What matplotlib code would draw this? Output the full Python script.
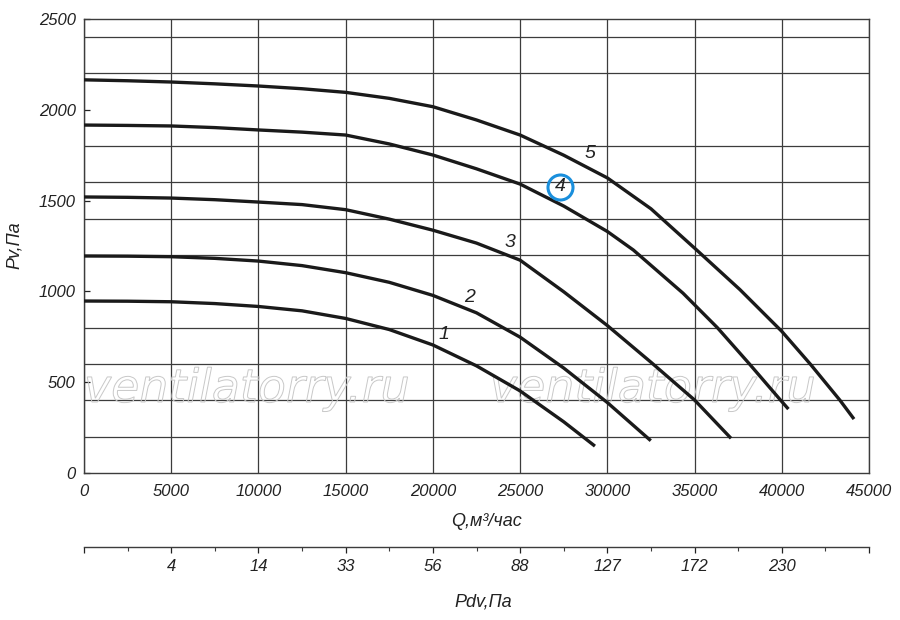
import numpy as np
import matplotlib
matplotlib.use('Agg')
import matplotlib.pyplot as plt
from matplotlib.ticker import FixedLocator, NullFormatter
from matplotlib.textpath import TextPath
from matplotlib.patches import PathPatch
from matplotlib.font_manager import FontProperties
from matplotlib.transforms import Affine2D

# curves: Q (m3/h) vs Pv (Pa)
q1 = [0, 2500, 5000, 7500, 10000, 12500, 15000, 17500, 20000, 22500, 25000, 27500, 29290]
p1 = [947, 946, 943, 933, 917, 893, 851, 790, 705, 590, 452, 282, 148]

q2 = [0, 2500, 5000, 7500, 10000, 12500, 15000, 17500, 20000, 22500, 25000, 27500, 30000, 32490]
p2 = [1195, 1194, 1191, 1182, 1167, 1142, 1103, 1050, 978, 882, 748, 578, 388, 178]

q3 = [0, 2500, 5000, 7500, 10000, 12500, 15000, 17500, 20000, 22500, 25000, 27500, 30000, 32500, 35000, 37090]
p3 = [1520, 1518, 1514, 1505, 1492, 1478, 1450, 1398, 1337, 1266, 1172, 998, 812, 610, 402, 191]

q4 = [0, 2500, 5000, 7500, 10000, 12500, 15000, 17500, 20000, 22500, 25000, 27500, 30000,
      31490, 34340, 36310, 38150, 39940, 40380]
p4 = [1916, 1914, 1911, 1902, 1889, 1877, 1861, 1812, 1751, 1675, 1591, 1470, 1330,
      1228, 990, 800, 600, 400, 352]

q5 = [0, 2500, 5000, 7500, 10000, 12500, 15000, 17500, 20000, 22500, 25000, 27500, 30000,
      32500, 35120, 37600, 40000, 41650, 43340, 44140]
p5 = [2165, 2160, 2153, 2143, 2131, 2116, 2096, 2063, 2017, 1944, 1861, 1750, 1625,
      1455, 1228, 1010, 780, 598, 400, 297]

curves = [(q1, p1), (q2, p2), (q3, p3), (q4, p4), (q5, p5)]

# curve number labels
lab_names = ['1', '2', '3', '4', '5']
lab_q = [20640, 22130, 24420, 27290, 29010]
lab_p = [760, 969, 1267, 1575, 1762]

q_ticks = list(range(0, 45001, 5000))
q_labels = [str(v) for v in q_ticks]
pv_ticks = list(range(0, 2501, 500))
pv_grid = list(range(0, 2501, 200))
pdv_labels = ['', '4', '14', '33', '56', '88', '127', '172', '230', '']
pdv_minor = list(range(2500, 45000, 5000))

plt.rcParams['font.family'] = ['Liberation Sans', 'DejaVu Sans']
plt.rcParams['font.style'] = 'italic'

fig = plt.figure(figsize=(9, 6.2), dpi=100)
ax = fig.add_axes([84/900, 1-473/620, 785/900, 454/620])
ax.set_xlim(0, 45000)
ax.set_ylim(0, 2500)

gridc = '#3c3c3c'
for s in ax.spines.values():
    s.set_color(gridc)
    s.set_linewidth(1.0)

ax.set_xticks(q_ticks)
ax.set_xticklabels(q_labels)
ax.set_yticks(pv_ticks)
ax.set_yticks(pv_grid, minor=True)
ax.xaxis.grid(True, which='major', color=gridc, lw=0.9)
ax.yaxis.grid(True, which='minor', color=gridc, lw=0.9)
ax.set_axisbelow(True)
ax.tick_params(axis='x', which='both', length=0, pad=8, labelsize=12, colors='#222222')
ax.tick_params(axis='y', which='major', direction='in', length=4, width=0.9, pad=6,
               labelsize=12, colors='#222222')
ax.tick_params(axis='y', which='minor', length=0)

for q, p in curves:
    ax.plot(q, p, color='#1a1a1a', lw=2.4, solid_capstyle='butt',
            solid_joinstyle='round', zorder=3)

for name, q, p in zip(lab_names, lab_q, lab_p):
    ax.text(q, p, name, fontsize=14, ha='center', va='center', color='#222222', zorder=4)
ax.plot([lab_q[3]], [lab_p[3]], marker='o', ms=18, mfc='none', mec='#1a8fdc', mew=2.2, zorder=4)

# watermark (outlined text)
fp = FontProperties(family='DejaVu Sans', style='oblique')
for x0 in [84, 490]:
    tp = TextPath((0, 0), 'ventilatorry.ru', size=33, prop=fp)
    tr = Affine2D().scale(1/72).translate(x0/100, (620-402)/100) + fig.dpi_scale_trans
    patch = PathPatch(tp, transform=tr, facecolor='none', edgecolor='#c8c8c8', lw=0.7,
                      zorder=2, clip_on=False)
    ax.add_patch(patch)

# second scale: dynamic pressure
sec = ax.secondary_xaxis(-74/454)
sec.set_xticks(q_ticks)
sec.set_xticklabels(pdv_labels)
sec.xaxis.set_minor_locator(FixedLocator(pdv_minor))
sec.xaxis.set_minor_formatter(NullFormatter())
sec.spines['bottom'].set_color(gridc)
sec.spines['bottom'].set_linewidth(1.0)
sec.tick_params(axis='x', which='major', direction='out', length=4.5, width=0.9, pad=4,
                labelsize=12, colors='#222222')
sec.tick_params(axis='x', which='minor', direction='out', length=3, width=0.8, color=gridc)

fig.text(14/900, 1-245/620, 'Pv,Па', rotation=90, ha='center', va='center', fontsize=13, color='#222222')
fig.text(486/900, 1-521/620, 'Q,м³/час', ha='center', va='center', fontsize=13, color='#222222')
fig.text(483/900, 1-602/620, 'Pdv,Па', ha='center', va='center', fontsize=13, color='#222222')

fig.savefig('out.png', dpi=100)
